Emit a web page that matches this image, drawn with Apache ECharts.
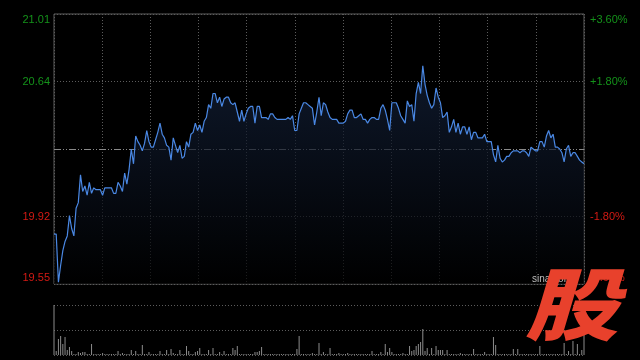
<!DOCTYPE html>
<html><head><meta charset="utf-8">
<script src="https://cdn.jsdelivr.net/npm/echarts@6/dist/echarts.min.js"></script>
<style>html,body{margin:0;padding:0;background:#000;}#c{width:640px;height:360px;}</style>
</head><body><div id="c"></div>
<script>
// ---- data ----
const prices = [
19.82,19.82,19.56,19.65,19.73,19.78,19.81,19.92,19.85,19.81,
19.96,19.99,20.14,20.05,20.08,20.03,20.10,20.04,20.07,20.06,
20.06,20.06,20.03,20.07,20.07,20.07,20.07,20.04,20.04,20.10,
20.08,20.05,20.15,20.09,20.17,20.28,20.20,20.35,20.32,20.30,
20.27,20.31,20.38,20.32,20.29,20.29,20.33,20.37,20.42,20.36,
20.34,20.30,20.29,20.22,20.34,20.30,20.26,20.30,20.23,20.24,
20.32,20.29,20.36,20.37,20.42,20.38,20.41,20.37,20.43,20.45,
20.52,20.50,20.58,20.58,20.53,20.56,20.51,20.55,20.56,20.56,
20.53,20.52,20.53,20.48,20.43,20.49,20.43,20.47,20.50,20.51,
20.51,20.42,20.51,20.51,20.45,20.45,20.45,20.44,20.47,20.47,
20.45,20.44,20.44,20.44,20.44,20.44,20.45,20.44,20.46,20.38,
20.38,20.47,20.50,20.53,20.53,20.52,20.51,20.50,20.41,20.48,
20.56,20.46,20.53,20.52,20.48,20.45,20.44,20.44,20.44,20.42,
20.42,20.42,20.43,20.47,20.49,20.49,20.45,20.45,20.46,20.47,
20.44,20.44,20.42,20.44,20.45,20.45,20.44,20.44,20.50,20.52,
20.49,20.44,20.38,20.53,20.53,20.53,20.50,20.46,20.44,20.42,
20.54,20.51,20.52,20.43,20.58,20.64,20.58,20.73,20.63,20.57,
20.53,20.50,20.52,20.61,20.56,20.53,20.45,20.46,20.48,20.37,
20.40,20.44,20.37,20.42,20.36,20.40,20.40,20.36,20.40,20.33,
20.37,20.37,20.34,20.34,20.34,20.36,20.32,20.32,20.32,20.25,
20.21,20.30,20.23,20.21,20.22,20.24,20.24,20.26,20.27,20.27,
20.27,20.26,20.27,20.27,20.26,20.24,20.29,20.28,20.27,20.27,
20.32,20.32,20.29,20.35,20.38,20.34,20.36,20.29,20.29,20.28,
20.26,20.21,20.28,20.30,20.24,20.26,20.26,20.24,20.22,20.21,
20.20
];
const volumes = [
50,4,16,19,11,18,5,8,4,1,1,3,2,3,3,1,1,11,1,1,
1,1,2,1,1,1,1,1,1,4,1,2,1,1,1,5,1,4,1,1,
10,1,1,3,1,1,1,1,4,1,1,5,1,6,2,1,1,5,1,1,
9,4,1,1,3,4,7,1,1,1,5,1,7,1,1,3,1,4,1,1,
1,7,5,9,1,1,1,1,1,1,1,3,3,4,8,1,1,1,1,1,
1,1,1,1,1,1,1,1,1,1,6,19,1,1,1,1,1,2,1,1,
12,1,3,1,1,7,1,1,1,2,1,1,1,2,1,1,1,1,1,1,
1,1,1,1,4,1,1,1,3,1,11,3,7,3,1,1,1,1,2,1,
1,9,4,5,9,11,13,26,4,7,1,7,1,9,5,5,5,1,5,1,
1,1,1,1,2,1,1,1,1,1,6,1,1,1,1,3,1,1,1,18,
10,1,1,1,1,1,1,1,6,1,6,1,1,1,1,1,1,1,1,1,
9,1,1,1,1,1,1,1,1,1,1,12,1,4,1,14,1,11,1,5,
45
];
const prevClose = 20.28;
const priceMin = 19.55, priceMax = 21.01;
const leftLabels = ['19.55','19.92','','20.64','21.01'];
const rightLabels = ['-3.60%','-1.80%','','+1.80%','+3.60%'];
const volMax = 50;
const categories = prices.map((_, i) => String(i));

const GREEN = '#14921a', RED = '#d41a14';
const gridDot = {color:'#5c5c5c', type:[1,2], width:1};

function labelFmt(arr){
  return function(v){
    const s = arr[v];
    if (!s) return '';
    const base = v >= 2 ? 'g' : 'r';
    const pos = v === 4 ? 'T' : (v === 0 ? 'B' : '');
    return '{' + base + pos + '|' + s + '}';
  };
}
const richStyles = {
  g:{color:GREEN}, gT:{color:GREEN, padding:[12,0,0,0]}, gB:{color:GREEN, padding:[0,0,12,0]},
  r:{color:RED}, rT:{color:RED, padding:[12,0,0,0]}, rB:{color:RED, padding:[0,0,12,0]}
};

const chart = echarts.init(document.getElementById('c'), null, {renderer:'canvas'});
chart.setOption({
  backgroundColor:'#000',
  animation:false,
  textStyle:{fontFamily:'Liberation Sans', fontSize:11},
  grid:[
    {left:54, right:56, top:14, height:270, show:true, borderColor:'#5e5e5e', borderWidth:1, backgroundColor:'transparent'},
    {left:54, right:56, top:305, height:50}
  ],
  xAxis:[
    {type:'category', gridIndex:0, data:categories, boundaryGap:false, show:false},
    {type:'value', gridIndex:0, min:0, max:11, interval:1, axisLine:{show:false}, axisTick:{show:false}, axisLabel:{show:false},
     splitLine:{show:true, lineStyle:gridDot}},
    {type:'category', gridIndex:1, data:categories, boundaryGap:false, show:false}
  ],
  yAxis:[
    {type:'value', gridIndex:0, min:priceMin, max:priceMax, show:false, splitLine:{show:false}},
    {type:'value', gridIndex:0, position:'left', min:0, max:4, interval:1,
     axisLine:{show:false}, axisTick:{show:false},
     axisLabel:{margin:4, fontSize:11, fontFamily:'Liberation Sans', formatter:labelFmt(leftLabels), rich:richStyles},
     splitLine:{show:true, lineStyle:{color:['#5c5c5c','#5c5c5c','rgba(0,0,0,0)','#5c5c5c','#5c5c5c'], type:[1,2], width:1}}},
    {type:'value', gridIndex:0, position:'right', min:0, max:4, interval:1,
     axisLine:{show:false}, axisTick:{show:false}, splitLine:{show:false},
     axisLabel:{margin:6, fontSize:11, fontFamily:'Liberation Sans', formatter:labelFmt(rightLabels), rich:richStyles}},
    {type:'value', gridIndex:1, min:0, max:volMax, interval:volMax/2,
     axisLine:{show:false}, axisTick:{show:false}, axisLabel:{show:false},
     splitLine:{show:true, lineStyle:gridDot}}
  ],
  series:[
    {type:'line', xAxisIndex:0, yAxisIndex:0, data:prices, showSymbol:false, symbol:'none', z:5,
     lineStyle:{color:'#4a88e4', width:1.2},
     areaStyle:{origin:'start', color:new echarts.graphic.LinearGradient(0,0,0,1,[{offset:0,color:'#14223c'},{offset:1,color:'#000000'}])},
     markLine:{silent:true, symbol:'none', label:{show:false},
       lineStyle:{color:'#8a8a8a', type:[7,2,1,2,1,2], width:1},
       data:[{yAxis:prevClose}]}},
    {type:'bar', xAxisIndex:2, yAxisIndex:3, data:volumes, barWidth:1, itemStyle:{color:'#8c8c8c'}}
  ],
  graphic:[
    {type:'text', x:532, y:279, z:50, style:{text:'sina.com', font:'10px "Liberation Sans"', fill:'#bdbdbd', verticalAlign:'middle'}},
    {type:'text', x:525, y:264, scaleX:1.18, z:100,
     style:{text:'股', font:'italic 900 79px "Noto Sans CJK SC"', fill:'#e8412c', verticalAlign:'top', align:'left'}}
  ]
});
</script></body></html>
